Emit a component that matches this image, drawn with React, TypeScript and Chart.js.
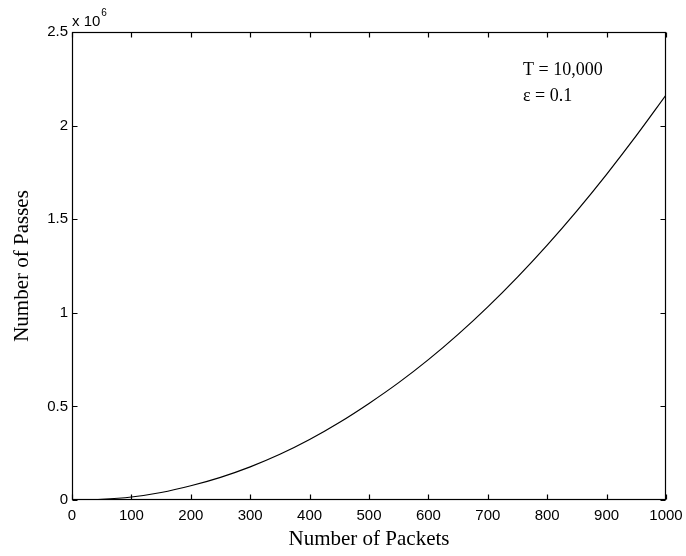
import React, { useEffect, useRef } from "react";
import { Chart, registerables } from "chart.js";

Chart.register(...registerables);

// Number of packets (x) and number of passes (y)
const packets = [0, 50, 100, 150, 200, 250, 300, 350, 400, 450, 500, 550, 600, 650, 700, 750, 800, 850, 900, 950, 1000];
const passes = [0, 4000, 16000, 40000, 76000, 121000, 177000, 244000, 323000, 414000, 516000, 627000, 750000, 885000, 1032000, 1191000, 1362000, 1545000, 1740000, 1946000, 2163000];

const xTitle = "Number of Packets";
const yTitle = "Number of Passes";
const exponentBase = "x 10";
const exponentPower = "6";
const noteLines = ["T = 10,000", "\u03b5 = 0.1"];

const X_MIN = 0;
const X_MAX = 1000;
const X_STEP = 100;
const Y_MIN = 0;
const Y_MAX = 2500000;
const Y_STEP = 500000;

const SANS = "'Liberation Sans', Arial, Helvetica, sans-serif";
const SERIF = "'Liberation Serif', 'Times New Roman', serif";

const framePlugin = {
  id: "matlabFrame",
  afterDraw(chart: any) {
    const { ctx, chartArea: ca, scales } = chart;
    const l = Math.round(ca.left) + 0.5;
    const r = Math.round(ca.right) - 0.5;
    const t = Math.round(ca.top) + 0.5;
    const b = Math.round(ca.bottom) - 0.5;
    ctx.save();
    ctx.strokeStyle = "#000";
    ctx.lineWidth = 1.2;
    ctx.strokeRect(l, t, r - l, b - t);
    const tl = 5;
    ctx.beginPath();
    for (const tk of scales.x.ticks) {
      const px = Math.round(scales.x.getPixelForValue(tk.value)) + 0.5;
      ctx.moveTo(px, b);
      ctx.lineTo(px, b - tl);
      ctx.moveTo(px, t);
      ctx.lineTo(px, t + tl);
    }
    for (const tk of scales.y.ticks) {
      const py = Math.round(scales.y.getPixelForValue(tk.value)) + 0.5;
      ctx.moveTo(l, py);
      ctx.lineTo(l + tl, py);
      ctx.moveTo(r, py);
      ctx.lineTo(r - tl, py);
    }
    ctx.stroke();

    // exponent label
    ctx.fillStyle = "#000";
    ctx.textAlign = "left";
    ctx.textBaseline = "alphabetic";
    ctx.font = `15px ${SANS}`;
    ctx.fillText(exponentBase, ca.left, ca.top - 6);
    const w = ctx.measureText(exponentBase).width;
    ctx.font = `10px ${SANS}`;
    ctx.fillText(exponentPower, ca.left + w + 1, ca.top - 16);

    // annotation
    ctx.font = `18px ${SERIF}`;
    ctx.fillText(noteLines[0], ca.left + 451, ca.top + 43);
    ctx.fillText(noteLines[1], ca.left + 451, ca.top + 69);
    ctx.restore();
  },
};

export default function App() {
  const ref = useRef<HTMLCanvasElement | null>(null);

  useEffect(() => {
    if (!ref.current) return;
    const chart = new Chart(ref.current, {
      type: "line",
      data: {
        datasets: [
          {
            data: packets.map((p, i) => ({ x: p, y: passes[i] })),
            borderColor: "#000",
            borderWidth: 1.2,
            pointRadius: 0,
            fill: false,
            cubicInterpolationMode: "monotone",
          },
        ],
      },
      options: {
        responsive: false,
        animation: false,
        events: [],
        layout: { padding: { left: 0, top: 32, right: 20, bottom: 0 } },
        plugins: { legend: { display: false }, tooltip: { enabled: false } },
        scales: {
          x: {
            type: "linear",
            min: X_MIN,
            max: X_MAX,
            afterFit(scale: any) {
              scale.height = 56;
              scale.paddingLeft = 0;
              scale.paddingRight = 0;
            },
            ticks: {
              stepSize: X_STEP,
              padding: 7,
              color: "#000",
              font: { family: SANS, size: 15 },
              maxRotation: 0,
              callback: (v: any) => String(v),
            },
            grid: { display: false, drawTicks: false },
            border: { display: false },
            title: {
              display: true,
              text: xTitle,
              color: "#000",
              font: { family: SERIF, size: 21 },
              padding: { top: 0, bottom: 4 },
            },
          },
          y: {
            type: "linear",
            min: Y_MIN,
            max: Y_MAX,
            afterFit(scale: any) {
              scale.width = 72;
              scale.paddingTop = 0;
              scale.paddingBottom = 0;
            },
            ticks: {
              stepSize: Y_STEP,
              padding: 4,
              color: "#000",
              font: { family: SANS, size: 15 },
              callback: (v: any) => String(Number(v) / 1000000),
            },
            grid: { display: false, drawTicks: false },
            border: { display: false },
            title: {
              display: true,
              text: yTitle,
              color: "#000",
              font: { family: SERIF, size: 21 },
              padding: { top: 10, bottom: 0 },
            },
          },
        },
      },
      plugins: [framePlugin],
    });
    return () => chart.destroy();
  }, []);

  return (
    <div style={{ position: "absolute", left: 0, top: 0, width: 686, height: 556, background: "#fff" }}>
      <canvas ref={ref} width={686} height={556} style={{ display: "block" }} />
    </div>
  );
}
